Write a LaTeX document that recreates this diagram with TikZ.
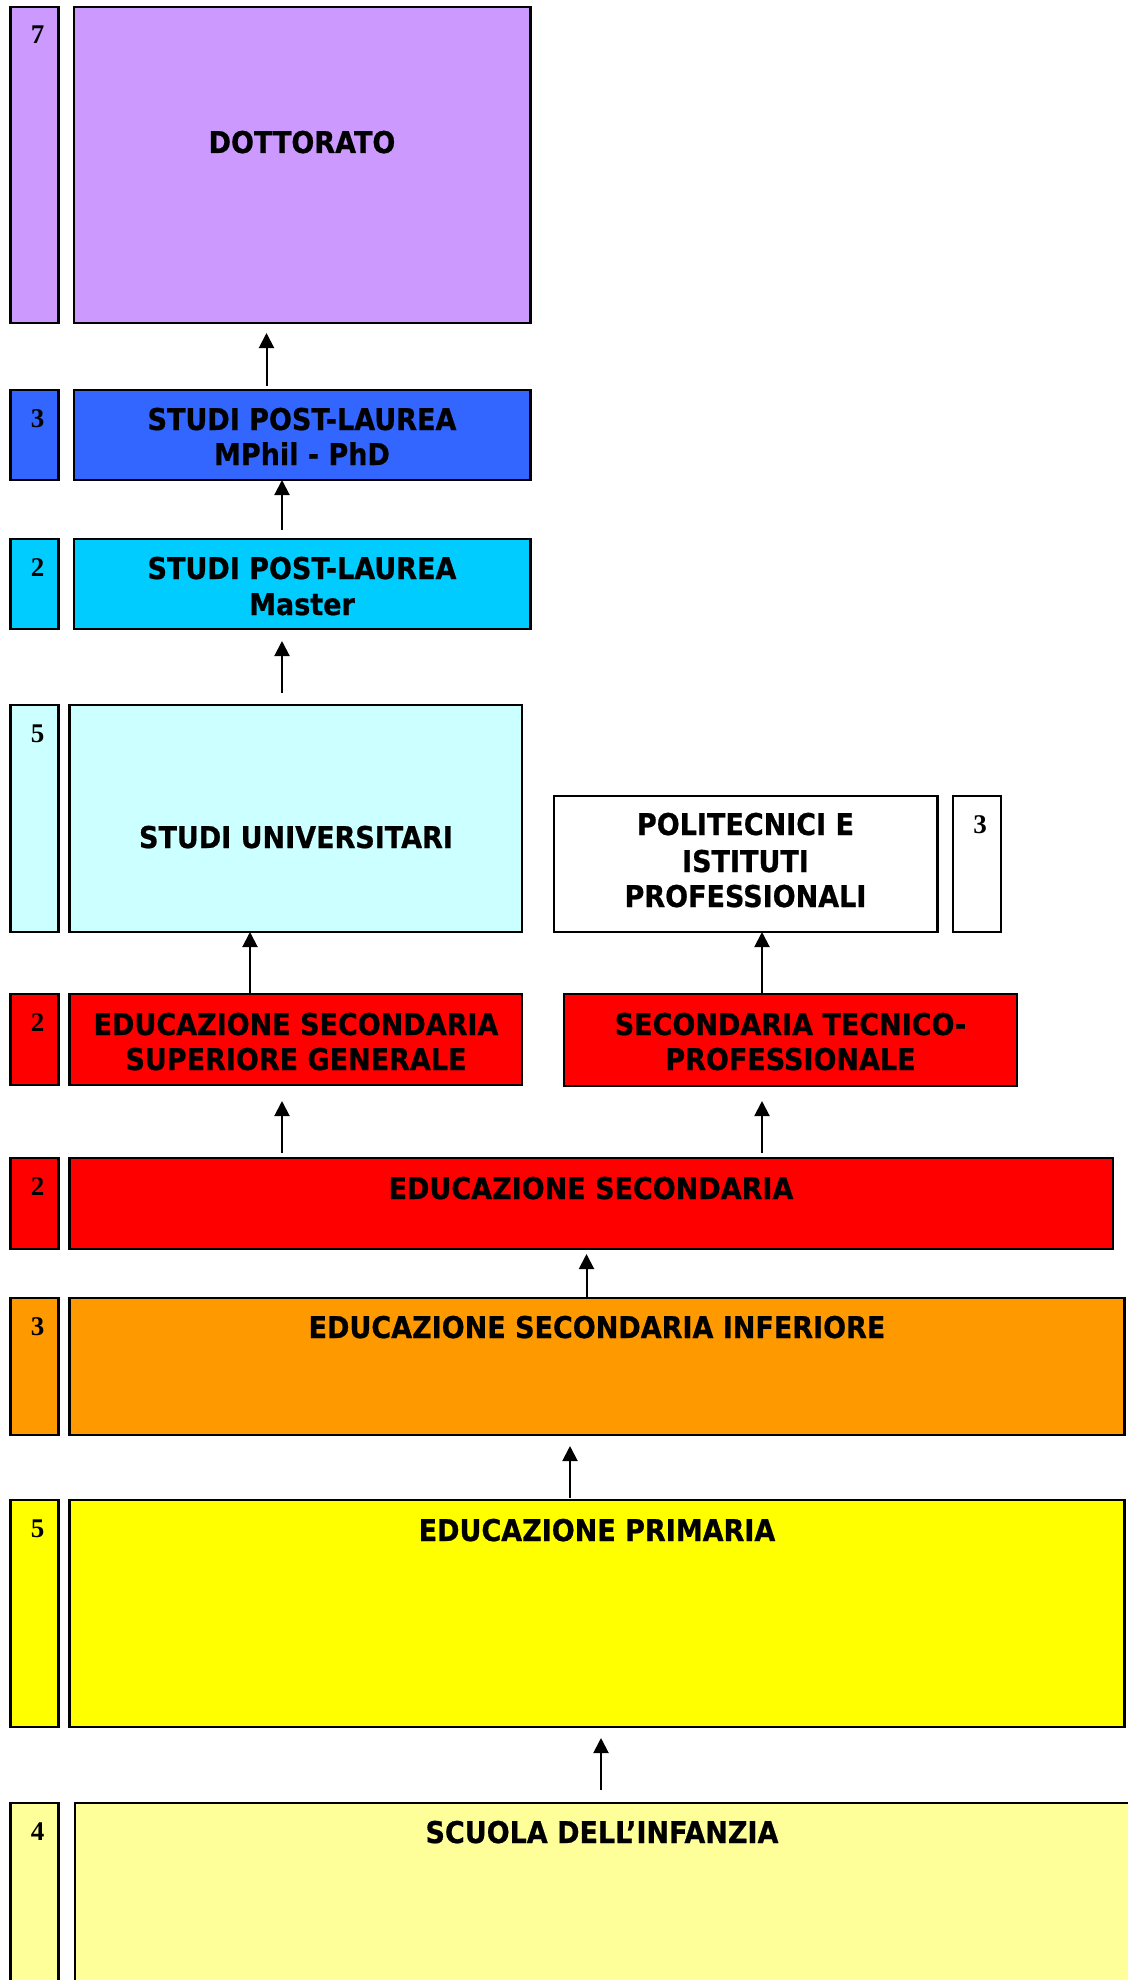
\documentclass[tikz,border=0pt]{standalone}
\usepackage{fontspec}
\newfontfamily\tahfont{DejaVu Sans}[FakeStretch=0.9, BoldFeatures={FakeBold=0.7}]
\newfontfamily\tnrfont{Liberation Serif}
\usetikzlibrary{arrows.meta,fit}
\definecolor{cdott}{HTML}{CC99FF}
\definecolor{cmphil}{HTML}{3366FF}
\definecolor{cmaster}{HTML}{00CCFF}
\definecolor{cuniv}{HTML}{CCFFFF}
\definecolor{cred}{HTML}{FF0000}
\definecolor{cinf}{HTML}{FF9900}
\definecolor{cprim}{HTML}{FFFF00}
\definecolor{cinfz}{HTML}{FFFF99}
\begin{document}
\begin{tikzpicture}[x=0.5pt,y=-0.5pt,
  box/.style={draw=black, line width=1.4pt, inner sep=0pt, outer sep=0pt, rectangle},
  lbl/.style={font=\tahfont\bfseries\fontsize{15pt}{17.5pt}\selectfont, inner sep=0pt, anchor=base},
  num/.style={font=\tnrfont\bfseries\fontsize{13.5pt}{15pt}\selectfont, inner sep=0pt, anchor=base},
  arr/.style={line width=1pt, -{Triangle[width=7.5pt,length=7.5pt]}}]
\useasboundingbox (0,0) rectangle (1128,1980);
\fill[white] (0,0) rectangle (1128,1980);
\clip (0,0) rectangle (1128,1980);

% year boxes (left column)
\node[box, fill=cdott,   fit={(10.5,7)(58.5,323)}]     (s7) {};
\node[box, fill=cmphil,  fit={(10.5,390)(58.5,480)}]   (s3a) {};
\node[box, fill=cmaster, fit={(10.5,539)(58.5,629)}]   (s2a) {};
\node[box, fill=cuniv,   fit={(10.5,705)(58.5,932)}]   (s5a) {};
\node[box, fill=cred,    fit={(10.5,994)(58.5,1085)}]  (s2b) {};
\node[box, fill=cred,    fit={(10.5,1158)(58.5,1249)}] (s2c) {};
\node[box, fill=cinf,    fit={(10.5,1298)(58.5,1435)}] (s3b) {};
\node[box, fill=cprim,   fit={(10.5,1500)(58.5,1727)}] (s5b) {};
\node[box, fill=cinfz,   fit={(10.5,1803)(58.5,1995)}] (s4) {};
\node[box, fill=white,   fit={(953,796)(1001,932)}]    (s3c) {};

\node[num] (n7)  at (37.5,44)   {7};
\node[num] (n3a) at (37.5,427)  {3};
\node[num] (n2a) at (37.5,576)  {2};
\node[num] (n5a) at (37.5,742)  {5};
\node[num] (n2b) at (37.5,1031) {2};
\node[num] (n2c) at (37.5,1195) {2};
\node[num] (n3b) at (37.5,1335) {3};
\node[num] (n5b) at (37.5,1537) {5};
\node[num] (n4)  at (37.5,1840) {4};
\node[num] (n3c) at (980,833)   {3};

% main boxes
\node[box, fill=cdott,   fit={(74,7)(530.5,323)}]       (dott) {};
\node[box, fill=cmphil,  fit={(74,390)(530.5,480)}]     (mphil) {};
\node[box, fill=cmaster, fit={(74,539)(530.5,629)}]     (master) {};
\node[box, fill=cuniv,   fit={(69.5,705)(522,932)}]     (univ) {};
\node[box, fill=white,   fit={(554,796)(937.5,932)}]    (polit) {};
\node[box, fill=cred,    fit={(69.5,994)(522,1085)}]    (gen) {};
\node[box, fill=cred,    fit={(564,994)(1017,1086)}]    (tecn) {};
\node[box, fill=cred,    fit={(69.5,1158)(1113,1249)}]  (sec) {};
\node[box, fill=cinf,    fit={(69.5,1298)(1124.5,1435)}] (inf) {};
\node[box, fill=cprim,   fit={(69.5,1500)(1124.5,1727)}] (prim) {};
\node[box, fill=cinfz,   fit={(75,1803)(1132,1995)}]     (infz) {};

% texts
\node[lbl] (tdott)  at (302,153)  {DOTTORATO};
\node[lbl] (tmph1)  at (302,430)  {STUDI POST-LAUREA};
\node[lbl] (tmph2)  at (302,465)  {MPhil - PhD};
\node[lbl] (tmas1)  at (302,579)  {STUDI POST-LAUREA};
\node[lbl] (tmas2)  at (302,615)  {Master};
\node[lbl] (tuniv)  at (296,848)  {STUDI UNIVERSITARI};
\node[lbl] (tpol1)  at (745.5,835) {POLITECNICI E};
\node[lbl] (tpol2)  at (745.5,872) {ISTITUTI};
\node[lbl] (tpol3)  at (745.5,907) {PROFESSIONALI};
\node[lbl] (tgen1)  at (296,1035) {EDUCAZIONE SECONDARIA};
\node[lbl] (tgen2)  at (296,1070) {SUPERIORE GENERALE};
\node[lbl] (ttec1)  at (790.5,1035) {SECONDARIA TECNICO-};
\node[lbl] (ttec2)  at (790.5,1070) {PROFESSIONALE};
\node[lbl] (tsec)   at (591,1199) {EDUCAZIONE SECONDARIA};
\node[lbl] (tinf)   at (597,1338) {EDUCAZIONE SECONDARIA INFERIORE};
\node[lbl] (tprim)  at (597,1541) {EDUCAZIONE PRIMARIA};
\node[lbl] (tinfz)  at (602,1843) {SCUOLA DELL’INFANZIA};

% arrow x positions
\coordinate (xa) at (266.5,0);
\coordinate (xb) at (282,0);
\coordinate (xc) at (250,0);
\coordinate (xd) at (762,0);
\coordinate (xe) at (586.5,0);
\coordinate (xf) at (570,0);
\coordinate (xg) at (601,0);

% arrows
\draw[arr, shorten <=2pt, shorten >=5pt]   (mphil.north -| xa)  -- (dott.south -| xa);
\draw[arr, shorten <=4.5pt]                (master.north -| xb) -- (mphil.south -| xb);
\draw[arr, shorten <=6pt, shorten >=6pt]   (univ.north -| xb)   -- (master.south -| xb);
\draw[arr]                                 (gen.north -| xc)    -- (univ.south -| xc);
\draw[arr]                                 (tecn.north -| xd)   -- (polit.south -| xd);
\draw[arr, shorten <=2.5pt, shorten >=8pt] (sec.north -| xb)    -- (gen.south -| xb);
\draw[arr, shorten <=2.5pt, shorten >=7.5pt] (sec.north -| xd)  -- (tecn.south -| xd);
\draw[arr, shorten >=2.5pt]                (inf.north -| xe)    -- (sec.south -| xe);
\draw[arr, shorten <=1pt, shorten >=5.5pt] (prim.north -| xf)   -- (inf.south -| xf);
\draw[arr, shorten <=6.5pt, shorten >=5.5pt] (infz.north -| xg) -- (prim.south -| xg);
\end{tikzpicture}
\end{document}
